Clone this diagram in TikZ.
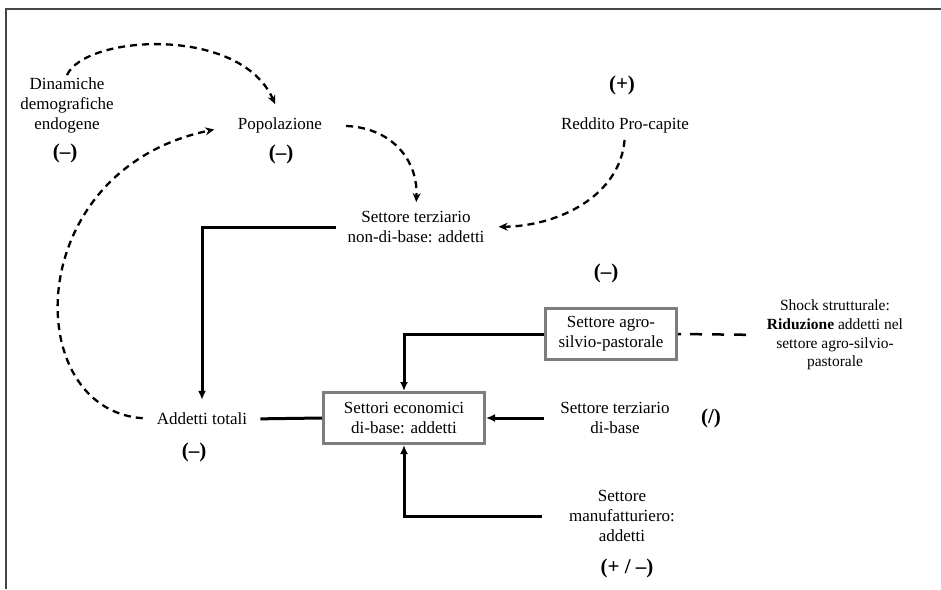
\documentclass[tikz,border=0pt]{standalone}
\usepackage{fontspec}
\setmainfont{Liberation Serif}
\usepackage{tikz}
\usetikzlibrary{arrows.meta}
\definecolor{framegray}{RGB}{70, 70, 70}
\definecolor{boxgray}{RGB}{125, 125, 125}
\tikzset{
    lbl/.style      = {align=center, inner sep=2pt, font=\fontsize{17}{20}\selectfont},
    smalllbl/.style = {align=center, inner sep=2pt, font=\fontsize{15.5}{18.7}\selectfont},
    sign/.style     = {inner sep=1pt, font=\fontsize{21}{22}\selectfont\bfseries},
    sector/.style   = {lbl, draw=boxgray, line width=3pt, minimum height=51pt},
    flow/.style     = {line width=3pt, -{Latex[length=9pt, width=8pt]}},
    link/.style     = {line width=3pt},
    feedback/.style = {line width=2.3pt, dash pattern=on 7pt off 5pt, -{Stealth[length=9pt, width=8pt]}},
    shockline/.style= {line width=2.5pt, dash pattern=on 3pt off 9pt on 12pt off 10pt on 12pt off 10pt on 12pt off 20pt},
}

\begin{document}
\begin{tikzpicture}[x=1pt, y=-1pt]
    \useasboundingbox (0,0) rectangle (941,589);
    \draw[framegray, line width=2pt] (6,589) -- (6,9) -- (941,9);

    \node[lbl]      (dinam)    at ( 67,105) {Dinamiche\\demografiche\\endogene};
    \node[sign]     (dinamsgn) at ( 65,153) {(–)};
    \node[lbl]      (pop)      at (280,125) {Popolazione};
    \node[sign]     (popsgn)   at (281,154) {(–)};
    \node[sign]     (redsgn)   at (622, 85) {(+)};
    \node[lbl]      (red)      at (625,125) {Reddito Pro-capite};
    \node[lbl]      (terzNB)   at (416,227) {Settore terziario\\non-di-base: addetti};
    \node[sign]     (agrosgn)  at (606,273) {(–)};
    \node[sector, minimum width=131pt] (agro) at (611,334) {Settore agro-\\silvio-pastorale};
    \node[smalllbl] (shockt)   at (835,335) {Shock strutturale:\\\textbf{Riduzione} addetti nel\\settore agro-silvio-\\pastorale};
    \node[sector, minimum width=161pt] (base) at (404,418) {Settori economici\\di-base: addetti};
    \node[lbl]      (terzB)    at (615,418) {Settore terziario\\di-base};
    \node[sign]     (terzBsgn) at (711,418) {(/)};
    \node[lbl]      (manuf)    at (622,516) {Settore\\manufatturiero:\\addetti};
    \node[sign]     (manufsgn) at (627,568) {(+ / –)};
    \node[lbl]      (tot)      at (202,419) {Addetti totali};
    \node[sign]     (totsgn)   at (194,452) {(–)};

    \draw[feedback, shorten >=12pt]                 (dinam.north) .. controls ( 85, 35) and (240, 25) .. (pop.north);
    \draw[feedback, shorten <=22pt, shorten >=7pt]  (pop.east)    .. controls (392,128) and (418,160) .. (terzNB.north);
    \draw[feedback, shorten <=5pt,  shorten >=12pt] (red.south)   .. controls (620,195) and (560,226) .. (terzNB.east);
    \draw[feedback, shorten <=12pt, shorten >=22pt] (tot.west)    .. controls ( 20,410) and ( 20,170) .. (pop.west);

    \draw[flow, shorten <=9pt, shorten >=11pt] (terzNB.west) -| (tot.north);
    \draw[link, shorten <=11pt]                (tot.east)    -- (base.west);
    \draw[flow]                                (agro.west)   -| (base.north);
    \draw[flow, shorten <=14pt]                (terzB.west)  -- (base.east);
    \draw[flow, shorten <=25pt]                (manuf.west)  -| (base.south);
    \draw[shockline, shorten >=17pt]           (agro.east)   -- (shockt.west);
\end{tikzpicture}
\end{document}
